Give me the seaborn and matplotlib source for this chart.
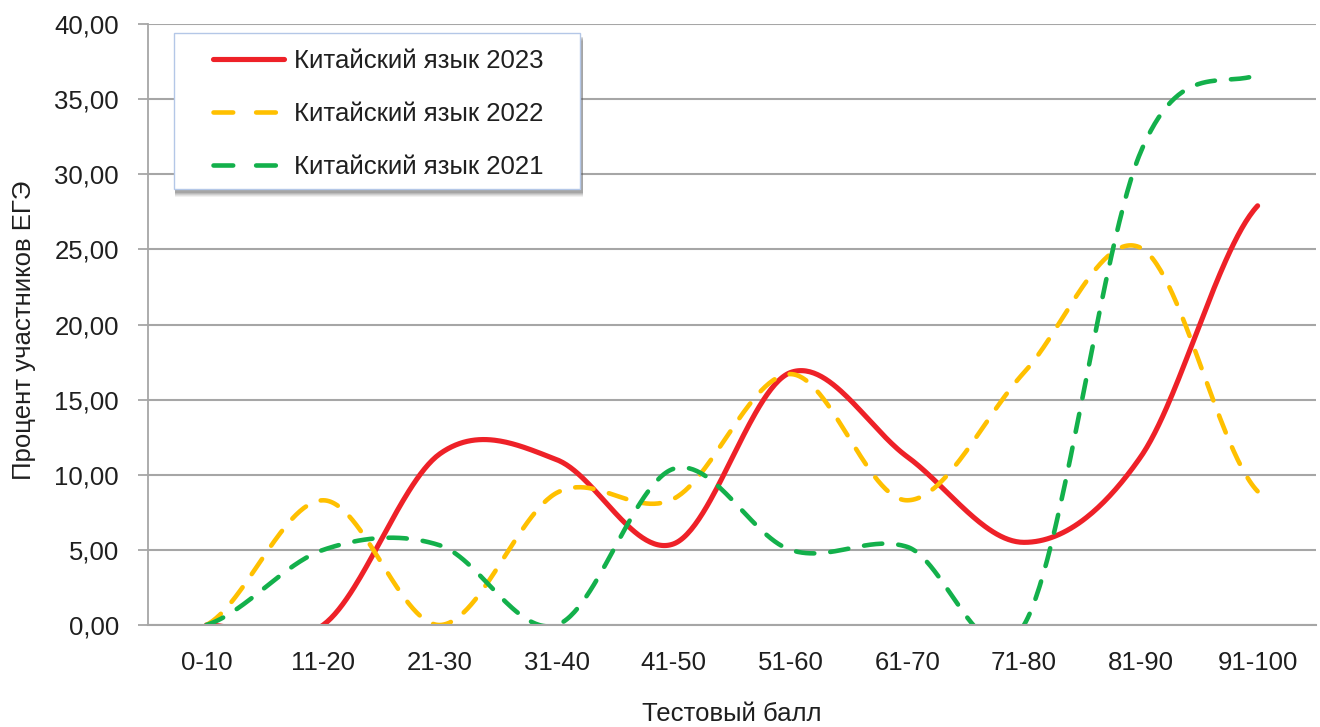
import numpy as np
import pandas as pd
import matplotlib
matplotlib.use("Agg")
import matplotlib.pyplot as plt
import matplotlib.patches as mpatches
from matplotlib.lines import Line2D
import seaborn as sns

# ---------------- data ----------------
categories = ["0-10", "11-20", "21-30", "31-40", "41-50",
              "51-60", "61-70", "71-80", "81-90", "91-100"]
values_2023 = [0.0, 0.0, 11.4, 11.0, 5.4, 16.8, 11.2, 5.5, 11.2, 27.9]
values_2022 = [0.0, 8.3, 0.0, 8.8, 8.4, 16.7, 8.3, 16.8, 25.1, 8.9]
values_2021 = [0.0, 5.0, 5.3, 0.0, 10.4, 5.0, 5.2, 0.0, 31.5, 36.6]
series_names = ["Китайский язык 2023", "Китайский язык 2022", "Китайский язык 2021"]
y_ticks = [0, 5, 10, 15, 20, 25, 30, 35, 40]
y_tick_labels = [f"{v:.2f}".replace(".", ",") for v in y_ticks]
x_title = "Тестовый балл"
y_title = "Процент участников ЕГЭ"

# ---------------- style ----------------
sns.set_theme(style="white")
plt.rcParams["font.family"] = ["Liberation Sans", "DejaVu Sans"]
TEXT = "#1f1f1f"
FS = 18.5

W, H = 1320, 727
fig = plt.figure(figsize=(W / 100, H / 100), dpi=100)
L, R, T, B = 148, 1316, 24, 625
ax = fig.add_axes([L / W, 1 - B / H, (R - L) / W, (B - T) / H])


def smooth(vals, n=60):
    """Excel-like smoothed line (Catmull-Rom / Bezier) through the data."""
    p = np.asarray(vals, float)
    N = len(p)
    m = np.empty(N)
    m[1:-1] = (p[2:] - p[:-2]) / 2
    m[0] = (p[1] - p[0]) / 2
    m[-1] = (p[-1] - p[-2]) / 2
    xs, ys = [], []
    for i in range(N - 1):
        t = np.linspace(0, 1, n, endpoint=(i == N - 2))
        h00 = 2 * t**3 - 3 * t**2 + 1
        h10 = t**3 - 2 * t**2 + t
        h01 = -2 * t**3 + 3 * t**2
        h11 = t**3 - t**2
        xs.append(i + t)
        ys.append(h00 * p[i] + h10 * m[i] + h01 * p[i + 1] + h11 * m[i + 1])
    return np.concatenate(xs), np.concatenate(ys)


styles = [
    dict(color="#ee2128", lw=3.7, dashes=None),
    dict(color="#ffc000", lw=3.3, dashes=(4.0, 3.5)),
    dict(color="#13b04b", lw=3.3, dashes=(4.0, 3.5)),
]
for name, vals, st in zip(series_names, [values_2023, values_2022, values_2021], styles):
    xs, ys = smooth(vals)
    df = pd.DataFrame({"x": xs, "y": ys})
    sns.lineplot(data=df, x="x", y="y", ax=ax, color=st["color"], linewidth=st["lw"],
                 sort=False, estimator=None, label=name, legend=False)
    ln = ax.lines[-1]
    ln.set_solid_capstyle("round")
    ln.set_dash_capstyle("round")
    if st["dashes"] is not None:
        ln.set_dashes(st["dashes"])

ax.set_xlim(-0.5, len(categories) - 0.5)
ax.set_ylim(0, 40)
ax.set_xticks(range(len(categories)))
ax.set_xticklabels(categories)
ax.set_yticks(y_ticks)
ax.set_yticklabels(y_tick_labels)

ax.grid(axis="y", color="#a6a6a6", lw=1.5)
ax.grid(axis="x", visible=False)
ax.set_axisbelow(True)
for s in ["top", "right"]:
    ax.spines[s].set_visible(False)
ax.spines["left"].set_color("#a6a6a6")
ax.spines["left"].set_linewidth(1.3)
ax.spines["bottom"].set_color("#a6a6a6")
ax.spines["bottom"].set_linewidth(1.5)

ax.tick_params(axis="y", length=7, width=1.3, color="#a6a6a6", pad=14,
               labelsize=FS, labelcolor=TEXT, left=True)
ax.tick_params(axis="x", length=0, pad=19, labelsize=FS, labelcolor=TEXT)

ax.set_xlabel(x_title, fontsize=FS, color=TEXT)
ax.set_ylabel(y_title, fontsize=FS, color=TEXT)
ax.xaxis.set_label_coords(0.5, (B - 702) / (B - T))
ax.yaxis.set_label_coords((36 - L) / (R - L), 0.49)

# ---------------- legend box with shadow ----------------
bx0, by0, bx1, by1 = 174, 33, 580, 189
for off, a in [(8, 0.08), (7, 0.10), (6, 0.13), (5, 0.16), (4, 0.2)]:
    sh = mpatches.Rectangle(((bx0 + 1) / W, 1 - (by1 + off) / H),
                            (bx1 - bx0 + 2) / W, (by1 - by0) / H,
                            transform=fig.transFigure, facecolor="#555555",
                            edgecolor="none", alpha=a, zorder=4)
    fig.add_artist(sh)
box = mpatches.Rectangle((bx0 / W, 1 - by1 / H), (bx1 - bx0) / W, (by1 - by0) / H,
                         transform=fig.transFigure, facecolor="white",
                         edgecolor="#b4c7e7", lw=1.0, zorder=5)
fig.add_artist(box)

# legend handles: solid line and two-dash samples, like the reference
handles = []
for st in styles:
    h = Line2D([], [], color=st["color"], lw=st["lw"],
               solid_capstyle="round", dash_capstyle="round")
    if st["dashes"] is not None:
        h.set_dashes((4.3, 5.0, 4.3, 30))
    handles.append(h)
leg = fig.legend(handles, series_names, loc="upper left",
                 bbox_to_anchor=(213 / W, 1 - 49 / H), bbox_transform=fig.transFigure,
                 frameon=False, fontsize=FS, handlelength=2.75, handletextpad=0.42,
                 labelspacing=1.12, borderpad=0, borderaxespad=0)
leg.set_zorder(6)
for t in leg.get_texts():
    t.set_color(TEXT)

fig.savefig("out.png", dpi=100)
